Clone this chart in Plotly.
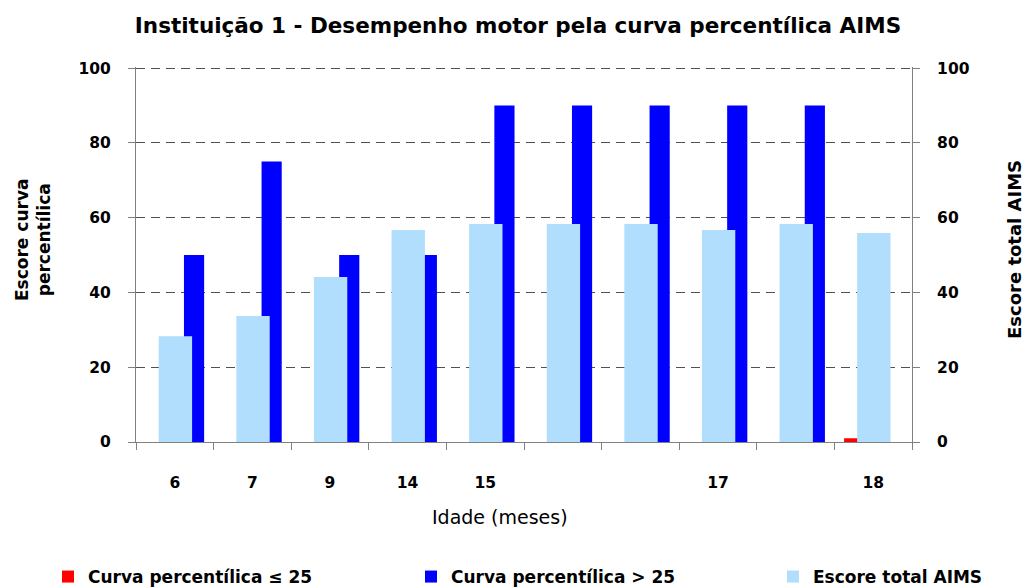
import plotly.graph_objects as go

# Idade (meses) - some categories have no label in the original
idade = ["6", "7", "9", "14", "15", "", "", "17", "", "18"]
curva_baixa = [None, None, None, None, None, None, None, None, None, 1]   # Curva percentílica <= 25
curva_alta = [50, 75, 50, 50, 90, 90, 90, 90, 90, None]                  # Curva percentílica > 25
escore_total = [28.3, 33.7, 44.1, 56.7, 58.3, 58.3, 58.3, 56.7, 58.3, 55.9]  # Escore total AIMS

xpos = list(range(len(idade)))
FONT = "DejaVu Sans"
GRID = "#505050"
AXIS = "#808080"

fig = go.Figure()
fig.add_trace(go.Bar(
    x=xpos, y=curva_baixa, name="Curva percentílica ≤ 25",
    marker=dict(color="#ff0000", line=dict(width=0)),
    offset=-0.375, width=0.26, yaxis="y",
))
fig.add_trace(go.Bar(
    x=xpos, y=curva_alta, name="Curva percentílica > 25",
    marker=dict(color="#0000ff", line=dict(width=0)),
    offset=0.118, width=0.26, yaxis="y",
))
# third legend entry goes in its own legend so the row does not wrap
fig.add_trace(go.Bar(
    x=xpos, y=escore_total, name="Escore total AIMS",
    marker=dict(color="#b0defc", line=dict(width=0)),
    offset=-0.207, width=0.43, yaxis="y2", legend="legend2",
))

tickfont = dict(family=FONT, size=15.5, color="black", weight="bold")
legfont = dict(family=FONT, size=17, color="black", weight="bold")
yrange = [0, 100.3]  # tiny headroom so the 100 gridline is drawn

fig.update_layout(
    width=1029, height=588,
    barmode="overlay",
    plot_bgcolor="white", paper_bgcolor="white",
    margin=dict(l=136, r=117, t=67, b=146, autoexpand=False),
    title=dict(
        text="Instituição 1 - Desempenho motor pela curva percentílica AIMS",
        font=dict(family=FONT, size=21.5, color="black", weight="bold"),
        x=518 / 1029, xanchor="center", y=1 - 25 / 588, yanchor="middle",
    ),
    xaxis=dict(
        range=[-0.5, len(idade) - 0.5],
        tickvals=xpos, ticktext=idade, ticks="",
        tickfont=tickfont, ticklabelstandoff=26,
        showline=True, linecolor=AXIS, linewidth=1,
        showgrid=False, zeroline=False,
        minor=dict(tickvals=[i - 0.5 for i in range(len(idade) + 1)],
                   ticks="outside", ticklen=7, tickcolor=AXIS, showgrid=False),
    ),
    yaxis=dict(
        range=yrange, dtick=20, tickfont=tickfont,
        ticks="outside", ticklen=7, tickcolor=AXIS, ticklabelstandoff=14,
        showline=True, linecolor=AXIS, linewidth=1,
        showgrid=True, gridcolor=GRID, griddash="9px,6px", gridwidth=1,
        zeroline=False,
    ),
    yaxis2=dict(
        range=yrange, dtick=20, tickfont=tickfont, overlaying="y", side="right",
        ticks="outside", ticklen=7, tickcolor=AXIS, ticklabelstandoff=14,
        showline=True, linecolor=AXIS, linewidth=1,
        showgrid=False, zeroline=False,
    ),
    showlegend=True,
    legend=dict(
        orientation="h", x=(48 - 136) / 776, xanchor="left",
        y=(442 - 577) / 375, yanchor="middle",
        entrywidth=318, entrywidthmode="pixels",
        font=legfont, bgcolor="rgba(0,0,0,0)", traceorder="normal",
    ),
    legend2=dict(
        orientation="h", x=(773 - 136) / 776, xanchor="left",
        y=(442 - 577) / 375, yanchor="middle",
        font=legfont, bgcolor="rgba(0,0,0,0)",
    ),
    annotations=[
        dict(text="Escore curva<br>percentílica", textangle=-90,
             xref="paper", yref="paper", x=0, y=(442 - 240) / 375,
             xshift=-103, xanchor="center", yanchor="middle", showarrow=False,
             font=dict(family=FONT, size=17, color="black", weight="bold")),
        dict(text="Escore total AIMS", textangle=-90,
             xref="paper", yref="paper", x=1, y=(442 - 250) / 375,
             xshift=102, xanchor="center", yanchor="middle", showarrow=False,
             font=dict(family=FONT, size=18, color="black", weight="bold")),
        dict(text="Idade (meses)",
             xref="paper", yref="paper", x=(500 - 136) / 776, y=(442 - 517) / 375,
             xanchor="center", yanchor="middle", showarrow=False,
             font=dict(family=FONT, size=19, color="black")),
    ],
)

fig.write_html("out.html", config={"displayModeBar": False},
               post_script="document.body.style.margin='0';")
